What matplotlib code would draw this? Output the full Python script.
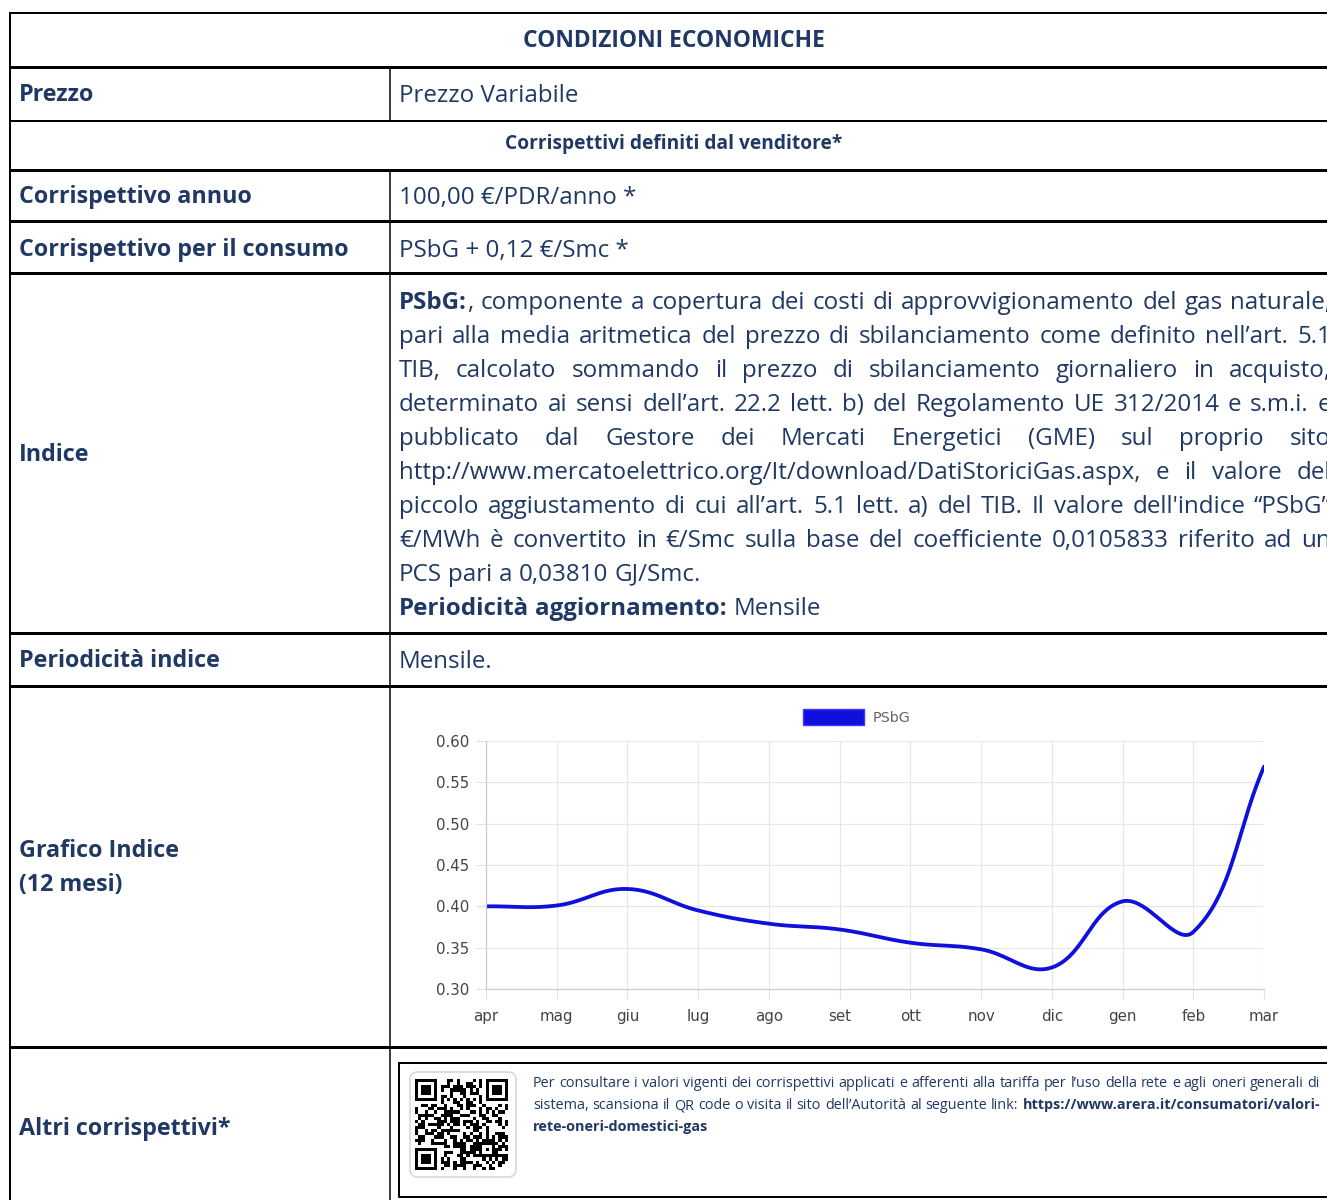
import hashlib
import numpy as np
import matplotlib
matplotlib.use("Agg")
import matplotlib.pyplot as plt
from matplotlib.patches import FancyBboxPatch, Patch

FONT = ["Open Sans", "DejaVu Sans"]
CHART_FONT = ["DejaVu Sans"]
NAVY = "#1F3864"
BLUE = "#1010dc"

# ---- chart data ----
months = ["apr", "mag", "giu", "lug", "ago", "set", "ott", "nov", "dic", "gen", "feb", "mar"]
psbg = [0.400, 0.401, 0.421, 0.395, 0.379, 0.372, 0.356, 0.348, 0.326, 0.406, 0.369, 0.569]
y_ticks = [0.30, 0.35, 0.40, 0.45, 0.50, 0.55, 0.60]
series_name = "PSbG"

# ---- table texts ----
title = "CONDIZIONI ECONOMICHE"
subtitle = "Corrispettivi definiti dal venditore*"
rows = [
    ("Prezzo", "Prezzo Variabile"),
    ("Corrispettivo annuo", "100,00 €/PDR/anno *"),
    ("Corrispettivo per il consumo", "PSbG + 0,12 €/Smc *"),
    ("Periodicità indice", "Mensile."),
]
indice_label = "Indice"
indice_lines = [
    "**PSbG:**, componente a copertura dei costi di approvvigionamento del gas naturale,",
    "pari alla media aritmetica del prezzo di sbilanciamento come definito nell’art. 5.1",
    "TIB, calcolato sommando il prezzo di sbilanciamento giornaliero in acquisto,",
    "determinato ai sensi dell’art. 22.2 lett. b) del Regolamento UE 312/2014 e s.m.i. e",
    "pubblicato dal Gestore dei Mercati Energetici (GME) sul proprio sito",
    "http://www.mercatoelettrico.org/It/download/DatiStoriciGas.aspx, e il valore del",
    "piccolo aggiustamento di cui all’art. 5.1 lett. a) del TIB. Il valore dell'indice “PSbG”",
    "€/MWh è convertito in €/Smc sulla base del coefficiente 0,0105833 riferito ad un",
    "PCS pari a 0,03810 GJ/Smc.",
    "**Periodicità aggiornamento:** Mensile",
]
indice_justified = [True] * 8 + [False, False]
grafico_label = ["Grafico Indice", "(12 mesi)"]
altri_label = "Altri corrispettivi*"
altri_lines = [
    "Per consultare i valori vigenti dei corrispettivi applicati e afferenti alla tariffa per l’uso della rete e agli oneri generali di",
    "sistema, scansiona il QR code o visita il sito dell’Autorità al seguente link: **https://www.arera.it/consumatori/valori-**",
    "**rete-oneri-domestici-gas**",
]
altri_justified = [True, True, False]
qr_url = "https://www.arera.it/consumatori/valori-rete-oneri-domestici-gas"

W, H = 1327, 1200
fig = plt.figure(figsize=(W / 100, H / 100), dpi=100)
fig.patch.set_facecolor("white")
ax = fig.add_axes([0, 0, 1, 1])
ax.axis("off")
renderer = fig.canvas.get_renderer()


def px(p):
    return p * 0.72


def parse(line):
    words = [[]]
    for k, chunk in enumerate(line.split("**")):
        weight = "bold" if k % 2 == 1 else "normal"
        for j, part in enumerate(chunk.split(" ")):
            if j > 0:
                words.append([])
            if part:
                words[-1].append((part, weight))
    return [w for w in words if w]


def width(s, size, weight, family=FONT):
    t = fig.text(0, 0, s, fontsize=size, fontweight=weight, family=family)
    w = t.get_window_extent(renderer).width
    t.remove()
    return w


def fit(s, weight, target, family=FONT):
    # font size (pt) giving the string the width it has in the reference
    return 12 * target / width(s, 12, weight, family)


def draw_line(line, x0, yc, size, justify=False, x1=None):
    words = parse(line)
    wws = [sum(width(p, size, wt) for p, wt in w) for w in words]
    gap = width("a a", size, "normal") - width("aa", size, "normal")
    if justify and len(words) > 1:
        gap = max(gap, (x1 - x0 - sum(wws)) / (len(words) - 1))
    base = yc + 0.36 * size / 0.72
    x = x0
    for w, ww in zip(words, wws):
        xx = x
        for p, wt in w:
            ax.text(xx, base, p, fontsize=size, fontweight=wt, family=FONT,
                    color=NAVY, va="baseline", ha="left")
            xx += width(p, size, wt)
        x += ww + gap


def label(s, x, yc, size, weight="bold", ha="left"):
    ax.text(x, yc + 0.36 * size / 0.72, s, fontsize=size, fontweight=weight,
            family=FONT, color=NAVY, va="baseline", ha=ha)


body = fit("PCS pari a 0,03810 GJ/Smc.", "normal", 300)
head = fit("Corrispettivo per il consumo", "bold", 328)
small = fit(altri_lines[0], "normal", 780)

# ---- QR code (drawn first so limits are set afterwards) ----
n = 29
digest = b"".join(hashlib.sha256((qr_url + str(k)).encode()).digest() for k in range(4))
bits = "".join(f"{b:08b}" for b in digest)
qr = np.array([int(c) for c in bits[: n * n]]).reshape(n, n)
for r0, c0 in [(0, 0), (0, n - 7), (n - 7, 0)]:
    qr[max(r0 - 1, 0):r0 + 8, max(c0 - 1, 0):c0 + 8] = 0
    qr[r0:r0 + 7, c0:c0 + 7] = 1
    qr[r0 + 1:r0 + 6, c0 + 1:c0 + 6] = 0
    qr[r0 + 2:r0 + 5, c0 + 2:c0 + 5] = 1
qr[6, 8:n - 8] = np.arange(n - 16) % 2 == 0
qr[8:n - 8, 6] = np.arange(n - 16) % 2 == 0
qr[n - 9:n - 4, n - 9:n - 4] = 1
qr[n - 8:n - 5, n - 8:n - 5] = 0
qr[n - 7, n - 7] = 1
ax.imshow(1 - qr, cmap="gray", interpolation="nearest", vmin=0, vmax=1,
          extent=(415, 508, 1170, 1079), aspect="auto", zorder=3)
ax.add_patch(FancyBboxPatch((410, 1072), 106, 105,
                            boxstyle="round,pad=0,rounding_size=8",
                            fc="white", ec="#d9d9d9", lw=1.2, zorder=2))
ax.set_xlim(0, W)
ax.set_ylim(H, 0)

# ---- table grid ----
for y, lw in [(13, 2), (67, 3), (121, 2), (170, 3), (221, 3), (273, 3),
              (633, 3), (686, 3), (1047, 3)]:
    ax.plot([10, W], [y, y], color="black", lw=px(lw), solid_capstyle="butt")
ax.plot([10, 10], [13, H], color="black", lw=px(2))
ax.plot([390, 390], [67, 121], color="black", lw=px(1.5))
ax.plot([390, 390], [170, H], color="black", lw=px(1.5))
ax.plot([399, W + 5, W + 5, 399, 399], [1063, 1063, 1197, 1197, 1063],
        color="black", lw=px(2))

# ---- texts ----
label(title, 674, 39, fit(title, "bold", 302), ha="center")
label(subtitle, 674, 142, fit(subtitle, "bold", 347) * 0.97, ha="center")
for (lab, val), yc in zip(rows, [93, 195, 248, 659]):
    label(lab, 19, yc, head)
    label(val, 399, yc, body, weight="normal")
label(indice_label, 19, 453, head)
for i, (line, just) in enumerate(zip(indice_lines, indice_justified)):
    draw_line(line, 399, 300 + 34.0 * i, body, justify=just, x1=1331)
label(grafico_label[0], 19, 849, head)
label(grafico_label[1], 19, 883, head)
label(altri_label, 19, 1127, head)
for i, (line, just) in enumerate(zip(altri_lines, altri_justified)):
    draw_line(line, 533, 1082 + 22 * i, small, justify=just, x1=1320)

# ---- chart ----
L, R, T, B = 486, 1264, 741, 989
ax2 = fig.add_axes([L / W, 1 - B / H, (R - L) / W, (B - T) / H])
ax2.set_xlim(0, len(months) - 1)
ax2.set_ylim(y_ticks[0], y_ticks[-1])

# Chart.js style bezier smoothing (tension 0.4) computed in pixel space
sx = (R - L) / (len(months) - 1)
sy = (B - T) / (y_ticks[-1] - y_ticks[0])
P = np.column_stack([np.arange(len(psbg)) * sx, np.array(psbg) * sy])
m = len(P)
cprev = np.zeros_like(P)
cnext = np.zeros_like(P)
for i in range(m):
    p0, p1, p2 = P[max(i - 1, 0)], P[i], P[min(i + 1, m - 1)]
    d01, d12 = np.hypot(*(p1 - p0)), np.hypot(*(p2 - p1))
    tot = d01 + d12
    fa = 0.4 * (d01 / tot if tot else 0)
    fb = 0.4 * (d12 / tot if tot else 0)
    cprev[i] = p1 - fa * (p2 - p0)
    cnext[i] = p1 + fb * (p2 - p0)
u = np.linspace(0, 1, 40)[:, None]
curve = []
for i in range(m - 1):
    a, b, c, d = P[i], cnext[i], cprev[i + 1], P[i + 1]
    curve.append((1 - u) ** 3 * a + 3 * (1 - u) ** 2 * u * b + 3 * (1 - u) * u ** 2 * c + u ** 3 * d)
curve = np.vstack(curve)
ax2.plot(curve[:, 0] / sx, curve[:, 1] / sy, color=BLUE, lw=px(3.8),
         solid_capstyle="round", clip_on=True)

tick_size = fit("0.60", "normal", 33, CHART_FONT)
ax2.set_xticks(range(len(months)))
ax2.set_xticklabels(months, family=CHART_FONT)
ax2.set_yticks(y_ticks)
ax2.set_yticklabels([f"{v:.2f}" for v in y_ticks], family=CHART_FONT)
ax2.tick_params(length=px(10), width=0.8, color="#e2e2e2", labelcolor="#444444",
                labelsize=tick_size)
ax2.tick_params(axis="x", pad=7)
ax2.tick_params(axis="y", pad=5)
ax2.grid(color="#e6e6e6", lw=0.8)
ax2.set_axisbelow(True)
for s in ["top", "right"]:
    ax2.spines[s].set_visible(False)
for s in ["left", "bottom"]:
    ax2.spines[s].set_color("#cccccc")
    ax2.spines[s].set_linewidth(0.9)
ax2.set_facecolor("none")
ax2.legend(handles=[Patch(facecolor=BLUE, edgecolor="#3a3aff", label=series_name)],
           loc="center", bbox_to_anchor=(0.476, 1.097),
           frameon=False, handlelength=4.3, handleheight=1.45, handletextpad=0.58,
           borderpad=0, prop={"family": CHART_FONT, "size": tick_size * 0.95},
           labelcolor="#666666")

fig.savefig("out.png", dpi=100, facecolor="white")
